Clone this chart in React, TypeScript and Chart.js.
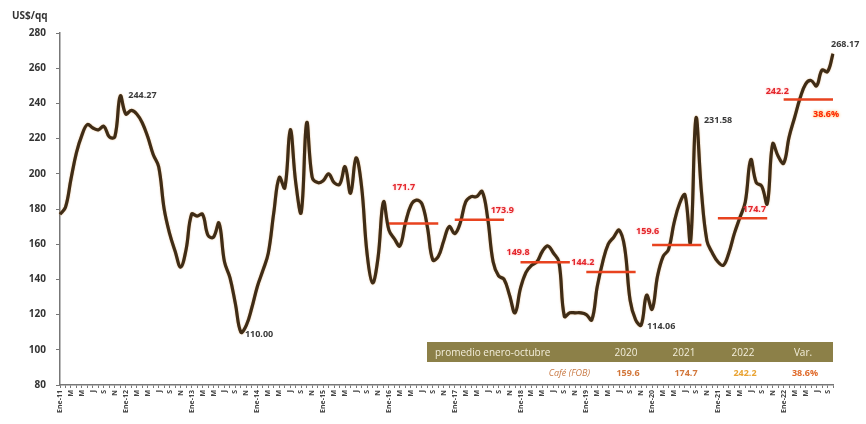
import React, { useEffect, useRef } from "react";
import { Chart, registerables } from "chart.js";

Chart.register(...registerables);

const years = [2011, 2012, 2013, 2014, 2015, 2016, 2017, 2018, 2019, 2020, 2021, 2022];
const monthNames = ["Ene", "F", "M", "A", "M", "J", "J", "A", "S", "O", "N", "D"];

const prices = [
  // 2011
  177, 181, 197, 212, 222, 228, 226, 225, 227, 221, 221, 244.27,
  // 2012
  234, 236, 234, 229, 221, 211, 204, 180, 166, 156, 147, 157,
  // 2013
  177, 176, 177, 165, 164, 172, 150, 141, 126, 110.0, 114, 124,
  // 2014
  136, 145, 155, 178, 198, 192, 225, 195, 178, 229, 198, 195,
  // 2015
  196, 200, 195, 194, 204, 189, 209, 193, 155, 138, 152, 184,
  // 2016
  168, 163, 159, 172, 182, 185, 183, 170, 151, 153, 162, 170,
  // 2017
  166, 172, 184, 187, 187, 190, 175, 150, 142, 140, 131, 121,
  // 2018
  135, 144, 148, 150, 156, 159, 155, 150, 119, 121, 121, 121,
  // 2019
  120, 117, 136, 150, 160, 164, 168, 158, 128, 117, 114.06, 131,
  // 2020
  123, 142, 153, 157, 172, 183, 188, 161, 231.58, 190, 162, 155,
  // 2021
  150, 148, 155, 166, 175, 184, 208, 195, 193, 183, 217, 210,
  // 2022 (Jan-Oct)
  206, 221, 232, 243, 251, 253, 250, 259, 258, 268.17,
];

const labeledIdx = [11, 33, 106, 116, 141];

const avgYears = [2016, 2017, 2018, 2019, 2020, 2021, 2022];
const avgValues = [171.7, 173.9, 149.8, 144.2, 159.6, 174.7, 242.2];

const tableHeader = ["promedio enero-octubre", "2020", "2021", "2022", "Var."];
const tableRowLabel = "Café (FOB)";
const tableValues = ["159.6", "174.7", "242.2", "38.6%"];
const varLabel = "38.6%";

const yTicks = [80, 100, 120, 140, 160, 180, 200, 220, 240, 260, 280];

const categories = prices.map((_, i) => {
  const y = years[Math.floor(i / 12)];
  const m = monthNames[i % 12];
  return i % 12 === 0 ? `${m}-${String(y).slice(2)}` : m;
});

const avgData = prices.map((_, i) => {
  const y = years[Math.floor(i / 12)];
  const k = avgYears.indexOf(y);
  return k >= 0 && i % 12 <= 9 ? avgValues[k] : null;
});

const FONT = "'Open Sans', 'DejaVu Sans', sans-serif";

const overlay = {
  id: "overlay",
  beforeDatasetDraw(chart: any, args: any) {
    if (args.index === 1) {
      const ctx = chart.ctx;
      ctx.save();
      ctx.shadowColor = "rgba(200,120,30,0.6)";
      ctx.shadowBlur = 1.5;
    }
  },
  afterDatasetDraw(chart: any, args: any) {
    if (args.index === 1) chart.ctx.restore();
  },
  afterDraw(chart: any) {
    const ctx = chart.ctx;
    const xs = chart.scales.x;
    const ys = chart.scales.y;
    ctx.save();
    // y title
    ctx.font = `bold 10px ${FONT}`;
    ctx.fillStyle = "#333";
    ctx.textAlign = "left";
    ctx.textBaseline = "middle";
    ctx.fillText("US$/qq", 12, 16);

    // point labels
    const offs: Record<number, [number, number]> = {
      11: [8, 0],
      33: [4, 2],
      106: [6, 1],
      116: [8, 2],
      141: [-2, -9],
    };
    ctx.font = `bold 9px ${FONT}`;
    ctx.fillStyle = "#3a3a3a";
    labeledIdx.forEach((i) => {
      const x = xs.getPixelForValue(i);
      const y = ys.getPixelForValue(prices[i]);
      const [dx, dy] = offs[i] || [6, 0];
      ctx.fillText(prices[i].toFixed(2), x + dx, y + dy);
    });

    // average labels
    const aoffs: [number, number][] = [
      [3, -36],
      [36, -9],
      [-14, -10],
      [-15, -10],
      [-16, -13],
      [25, -9],
      [-18, -8],
    ];
    ctx.font = `bold 9px ${FONT}`;
    avgYears.forEach((yr, k) => {
      const i = (yr - years[0]) * 12;
      const x = xs.getPixelForValue(i);
      const y = ys.getPixelForValue(avgValues[k]);
      ctx.shadowColor = "rgba(255,120,120,0.6)";
      ctx.shadowBlur = 2;
      ctx.fillStyle = "#e3262c";
      ctx.fillText(avgValues[k].toFixed(1), x + aoffs[k][0], y + aoffs[k][1]);
    });
    // variation label
    {
      const k = avgYears.length - 1;
      const i = (avgYears[k] - years[0]) * 12 + 9;
      const x = xs.getPixelForValue(i);
      const y = ys.getPixelForValue(avgValues[k]);
      ctx.font = `bold 9px ${FONT}`;
      ctx.shadowColor = "rgba(255,150,0,0.9)";
      ctx.shadowBlur = 3;
      ctx.fillStyle = "#ff2200";
      ctx.fillText(varLabel, x - 20, y + 15);
    }
    ctx.shadowBlur = 0;
    ctx.shadowColor = "transparent";

    // table
    const tx = 427, ty = 342, tw = 406, th = 20;
    ctx.fillStyle = "#8c8048";
    ctx.fillRect(tx, ty, tw, th);
    ctx.font = `10px ${FONT}`;
    ctx.fillStyle = "#f3eedb";
    ctx.textAlign = "left";
    ctx.fillText(tableHeader[0], 435, ty + th / 2 + 1);
    const cols = [626, 684, 743, 803];
    ctx.textAlign = "center";
    tableHeader.slice(1).forEach((h, j) => ctx.fillText(h, cols[j], ty + th / 2 + 1));
    ctx.textAlign = "right";
    ctx.font = `italic 9px ${FONT}`;
    ctx.fillStyle = "#c97a45";
    ctx.fillText(tableRowLabel, 590, 373);
    const valColors = ["#d2763a", "#d2763a", "#e9a332", "#e06a2a"];
    ctx.textAlign = "center";
    ctx.font = `bold 9px ${FONT}`;
    tableValues.forEach((v, j) => {
      ctx.fillStyle = valColors[j];
      ctx.fillText(v, cols[j] + 2, 373);
    });
    ctx.restore();
  },
};

export default function App() {
  const ref = useRef<HTMLCanvasElement | null>(null);
  useEffect(() => {
    if (!ref.current) return;
    const chart = new Chart(ref.current, {
      type: "line",
      data: {
        labels: categories,
        datasets: [
          {
            data: avgData,
            borderColor: "#e8431f",
            borderWidth: 2.5,
            pointRadius: 0,
            spanGaps: false,
            tension: 0,
            order: 0,
          },
          {
            data: prices,
            borderColor: "#3f2c16",
            borderWidth: 3.2,
            pointRadius: 0,
            tension: 0.4,
            order: 1,
          },
        ],
      },
      options: {
        animation: false,
        responsive: true,
        maintainAspectRatio: false,
        layout: { padding: { left: 0, right: 33, top: 33, bottom: 0 } },
        plugins: { legend: { display: false }, tooltip: { enabled: false } },
        scales: {
          x: {
            type: "category",
            afterFit: (s: any) => {
              s.height = 39;
            },
            grid: {
              drawOnChartArea: false,
              drawTicks: true,
              tickLength: 3,
              color: "#777",
            },
            border: { display: true, color: "#777", width: 1.5 },
            ticks: {
              autoSkip: false,
              minRotation: 90,
              maxRotation: 90,
              padding: 2,
              font: { size: 7, weight: "bold", family: FONT },
              color: "#444",
              callback: (_v: any, i: number) => (i % 2 === 0 ? categories[i] : ""),
            },
          },
          y: {
            min: yTicks[0],
            max: yTicks[yTicks.length - 1],
            afterFit: (s: any) => {
              s.width = 60;
            },
            afterBuildTicks: (s: any) => {
              s.ticks = yTicks.map((v) => ({ value: v }));
            },
            grid: {
              drawOnChartArea: false,
              drawTicks: true,
              tickLength: 4,
              color: "#777",
            },
            border: { display: true, color: "#777", width: 1.5 },
            ticks: {
              padding: 10,
              font: { size: 10, weight: "bold", family: FONT },
              color: "#333",
            },
          },
        },
      },
      plugins: [overlay],
    });
    return () => chart.destroy();
  }, []);
  return (
    <div style={{ position: "fixed", left: 0, top: 0, width: 866, height: 424, background: "#fff" }}>
      <canvas ref={ref} />
    </div>
  );
}
